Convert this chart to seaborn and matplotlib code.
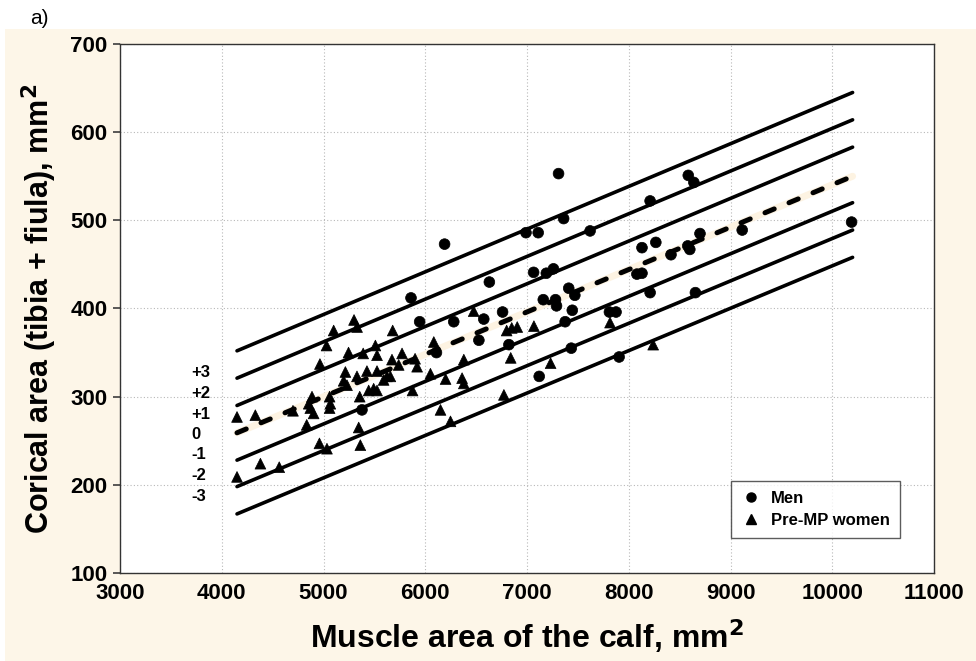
import numpy as np
import pandas as pd
import matplotlib
matplotlib.use("Agg")
import matplotlib.pyplot as plt
import seaborn as sns
from matplotlib.lines import Line2D

# ---- data ----
men_x = [6190, 5860, 5945, 7310, 7360, 6990, 7110, 7620, 8210, 8585, 8640, 8700,
         9115, 10190, 6630, 7065, 7190, 7260, 8130, 8266, 8415, 8580, 8600, 8080,
         8130, 8210, 8655, 7410, 7470, 7160, 7280, 7290, 7445, 7375, 7435, 7810,
         7875, 7905, 7120, 6760, 6280, 6575, 6527, 6822, 6110, 5378]
men_y = [473, 412, 385, 553, 502, 486, 486, 488, 522, 551, 543, 485,
         489, 498, 430, 441, 440, 445, 469, 475, 461, 471, 467, 439,
         440, 418, 418, 423, 415, 410, 410, 403, 398, 385, 355, 396,
         396, 345, 323, 396, 385, 388, 364, 359, 350, 285]

women_x = [4150, 4330, 4150, 4380, 4565, 4700, 4835, 4855, 4870, 4887, 4903, 4960,
           5034, 5060, 5067, 5060, 4965, 5030, 5100, 5300, 5330, 5680, 5246, 5390,
           5510, 5526, 5772, 5673, 5739, 5900, 5920, 5215, 5198, 5231, 5329, 5427,
           5526, 5493, 5444, 5591, 5657, 5356, 5346, 5362, 5875, 6084, 6051, 6200,
           6379, 6362, 6379, 6150, 6248, 6476, 6800, 6850, 6904, 6840, 7068, 7232,
           6773, 7816, 8240, 5526, 5624]
women_y = [277, 279, 209, 224, 220, 284, 268, 292, 287, 300, 281, 247,
           241, 300, 292, 287, 337, 358, 375, 387, 379, 375, 350, 349,
           358, 347, 349, 342, 336, 343, 334, 328, 318, 313, 323, 329,
           329, 309, 307, 319, 323, 300, 265, 245, 307, 362, 326, 320,
           342, 321, 315, 285, 272, 397, 375, 378, 379, 344, 380, 338,
           302, 384, 359, 307, 323]

groups = ["Men", "Pre-MP women"]

# reference lines (+3 .. -3 SD), start/end values
line_x = [4150, 10200]
band_names = ["+3", "+2", "+1", "0", "-1", "-2", "-3"]
band_start = [352, 321, 290, 259, 228, 198, 167]
band_end = [645, 614, 583, 550, 520, 489, 458]
band_label_y = [327, 304, 280, 257, 234, 211, 187]
band_label_x = 3700

x_ticks = [3000, 4000, 5000, 6000, 7000, 8000, 9000, 10000, 11000]
y_ticks = [100, 200, 300, 400, 500, 600, 700]

df = pd.DataFrame({
    "x": men_x + women_x,
    "y": men_y + women_y,
    "group": [groups[0]] * len(men_x) + [groups[1]] * len(women_x),
})

# ---- plot ----
sns.set_theme(style="white")
plt.rcParams["font.family"] = ["Liberation Sans", "DejaVu Sans"]
plt.rcParams["text.color"] = "black"
plt.rcParams["axes.labelcolor"] = "black"
plt.rcParams["xtick.color"] = "black"
plt.rcParams["ytick.color"] = "black"

fig = plt.figure(figsize=(9.76, 6.61), dpi=100)
fig.patch.set_facecolor("white")
bg = plt.Rectangle((5 / 976, 0), 1, 1 - 29 / 661, transform=fig.transFigure,
                   facecolor="#fdf6e8", edgecolor="none", zorder=-10)
fig.patches.append(bg)

ax = fig.add_axes([120 / 976, 88 / 661, 814 / 976, 529 / 661])
ax.set_facecolor("white")

for name, ys, ye in zip(band_names, band_start, band_end):
    if name == "0":
        ax.plot(line_x, [ys, ye], color="#fdf3e2", lw=5, solid_capstyle="round", zorder=1)
        ax.plot(line_x, [ys, ye], color="black", lw=3.6, dashes=(2.0, 3.2),
                dash_capstyle="round", zorder=4)
    else:
        ax.plot(line_x, [ys, ye], color="black", lw=2.6, zorder=2)

sns.scatterplot(data=df, x="x", y="y", style="group", markers={"Men": "o", "Pre-MP women": "^"},
                color="black", edgecolor="black", s=60, linewidth=0.5, ax=ax, zorder=3,
                legend=False)

for name, ly in zip(band_names, band_label_y):
    ax.text(band_label_x, ly, name, fontsize=12, fontweight="bold", ha="left", va="center")

ax.set_xlim(3000, 11000)
ax.set_ylim(100, 700)
ax.set_xticks(x_ticks)
ax.set_yticks(y_ticks)
ax.set_xticklabels([str(t) for t in x_ticks], fontsize=16, fontweight="bold")
ax.set_yticklabels([str(t) for t in y_ticks], fontsize=16, fontweight="bold")
ax.grid(True, linestyle=(0, (1, 2)), color="#b8b8b8", linewidth=0.8)
ax.tick_params(axis="x", direction="in", length=5, color="#444444", pad=7)
ax.tick_params(axis="y", direction="out", length=5, color="#444444", pad=4, left=True)
for sp in ax.spines.values():
    sp.set_color("#333333")
    sp.set_linewidth(1.0)

ax.set_xlabel("Muscle area of the calf, mm$^\\mathbf{2}$", fontsize=23, fontweight="bold", labelpad=10)
ax.set_ylabel("Corical area (tibia + fiula), mm$^\\mathbf{2}$", fontsize=22, fontweight="bold", labelpad=8)

handles = [Line2D([], [], marker="o", color="black", linestyle="none", markersize=6.5),
           Line2D([], [], marker="^", color="black", linestyle="none", markersize=7.5)]
leg = ax.legend(handles, groups, loc="lower right", bbox_to_anchor=(0.968, 0.05),
                prop={"weight": "bold", "size": 12}, frameon=True, fancybox=False,
                edgecolor="#333333", handletextpad=0.6, borderpad=0.6, labelspacing=0.45,
                handlelength=1.2)
leg.get_frame().set_linewidth(1.0)

fig.text(30 / 976, 1 - 19 / 661, "a)", fontsize=15, ha="left", va="center")

fig.savefig("out.png", dpi=100, facecolor=fig.get_facecolor())
